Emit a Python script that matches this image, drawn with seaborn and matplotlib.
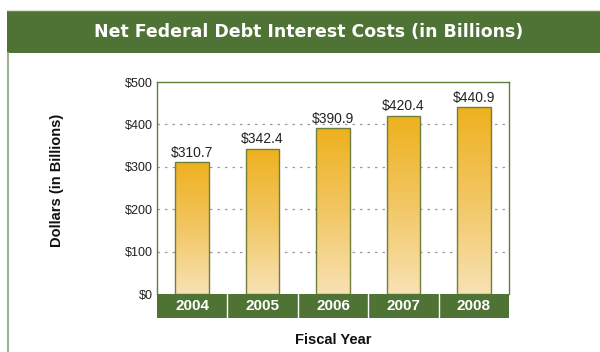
import numpy as np
import pandas as pd
import matplotlib
matplotlib.use("Agg")
import matplotlib.pyplot as plt
import matplotlib.transforms as mtransforms
from matplotlib.colors import LinearSegmentedColormap
from matplotlib.patches import Rectangle
import seaborn as sns

# Data
years = ["2004", "2005", "2006", "2007", "2008"]
interest = [310.7, 342.4, 390.9, 420.4, 440.9]
y_ticks = [0, 100, 200, 300, 400, 500]
y_tick_labels = ["$0", "$100", "$200", "$300", "$400", "$500"]

title = "Net Federal Debt Interest Costs (in Billions)"
x_title = "Fiscal Year"
y_title = "Dollars (in Billions)"

GREEN = "#4e7334"
FRAME = "#5f7d3f"
EDGE = "#6d7f3a"
LIGHT_GREEN = "#9fb28f"

sns.set_theme(style="white")
plt.rcParams["font.family"] = ["Liberation Sans", "DejaVu Sans"]

df = pd.DataFrame({"year": years, "interest": interest})

fig = plt.figure(figsize=(6.0, 3.52), dpi=100)
fig.patch.set_facecolor("white")

# Header band and panel border
fig.patches.append(Rectangle((7 / 600, 1 - 53 / 352), 1, 43 / 352,
                             transform=fig.transFigure, facecolor=GREEN,
                             edgecolor="none", zorder=0))
fig.lines.append(plt.Line2D([7 / 600, 1], [1 - 9.5 / 352, 1 - 9.5 / 352],
                            transform=fig.transFigure, color="#dfe6d8",
                            lw=1.0))
fig.lines.append(plt.Line2D([8 / 600, 8 / 600], [0, 1 - 53 / 352],
                            transform=fig.transFigure, color=LIGHT_GREEN,
                            lw=1.5))
fig.text(309 / 600, 1 - 32 / 352, title, ha="center", va="center",
         color="white", fontsize=12.5, fontweight="bold",
         family=["DejaVu Sans"])

ax = fig.add_axes([157 / 600, 1 - 294 / 352, 352 / 600, 212 / 352])

sns.barplot(data=df, x="year", y="interest", ax=ax, width=0.48,
            color="#eeb11e", edgecolor=EDGE, linewidth=1.0, zorder=3)

# Vertical gold gradient inside each bar
cmap = LinearSegmentedColormap.from_list("gold", ["#f8e2b4", "#f2c663", "#eeb11e"])
grad = np.linspace(0, 1, 256).reshape(-1, 1)
for patch in ax.patches:
    x0, y0 = patch.get_x(), patch.get_y()
    w, h = patch.get_width(), patch.get_height()
    patch.set_facecolor("none")
    im = ax.imshow(grad, cmap=cmap, aspect="auto", origin="lower",
                   extent=(x0, x0 + w, y0, y0 + h), zorder=2)
    im.set_clip_path(patch)

ax.set_xlim(-0.5, len(years) - 0.5)
ax.set_ylim(0, 500)

# Value labels
for i, v in enumerate(interest):
    ax.text(i, v + 6, f"${v:.1f}", ha="center", va="bottom",
            fontsize=10, color="#222222", zorder=4)

# Grid
ax.set_yticks(y_ticks)
ax.set_yticklabels(y_tick_labels, fontsize=9, color="#222222")
for yv in y_ticks[1:-1]:
    ax.axhline(yv, color="#9a9a9a", lw=0.9, ls=(0, (2, 4)), zorder=1)
ax.tick_params(axis="y", length=0, pad=3)

# Frame
for side in ["top", "right", "left"]:
    ax.spines[side].set_visible(True)
    ax.spines[side].set_color(FRAME)
    ax.spines[side].set_linewidth(1.0)
ax.spines["bottom"].set_visible(False)

# Green category band below the axis, with the years in white
band_h = 24 / 212
ax.add_patch(Rectangle((0, -band_h), 1, band_h, transform=ax.transAxes,
                       facecolor=GREEN, edgecolor="none", clip_on=False,
                       zorder=5))
blend = mtransforms.blended_transform_factory(ax.transData, ax.transAxes)
for b in np.arange(0.5, len(years) - 0.5, 1.0):
    ax.plot([b, b], [-band_h, 0], transform=blend, color="white", lw=1.0,
            clip_on=False, zorder=6)
ax.set_xticks(range(len(years)))
ax.set_xticklabels([])
ax.tick_params(axis="x", length=0)
for i, yr in enumerate(years):
    ax.text(i, -band_h / 2, yr, transform=blend, ha="center", va="center",
            fontsize=11, fontweight="bold", color="white", zorder=7,
            clip_on=False)
ax.set_xlabel("")
ax.set_ylabel("")

fig.text(333 / 600, 1 - 340 / 352, x_title, ha="center", va="center",
         fontsize=10.5, fontweight="bold", color="#111111")
fig.text(57 / 600, 1 - 180 / 352, y_title, ha="center", va="center",
         rotation=90, fontsize=10.5, fontweight="bold", color="#111111")

fig.savefig("out.png", dpi=100, facecolor="white")
